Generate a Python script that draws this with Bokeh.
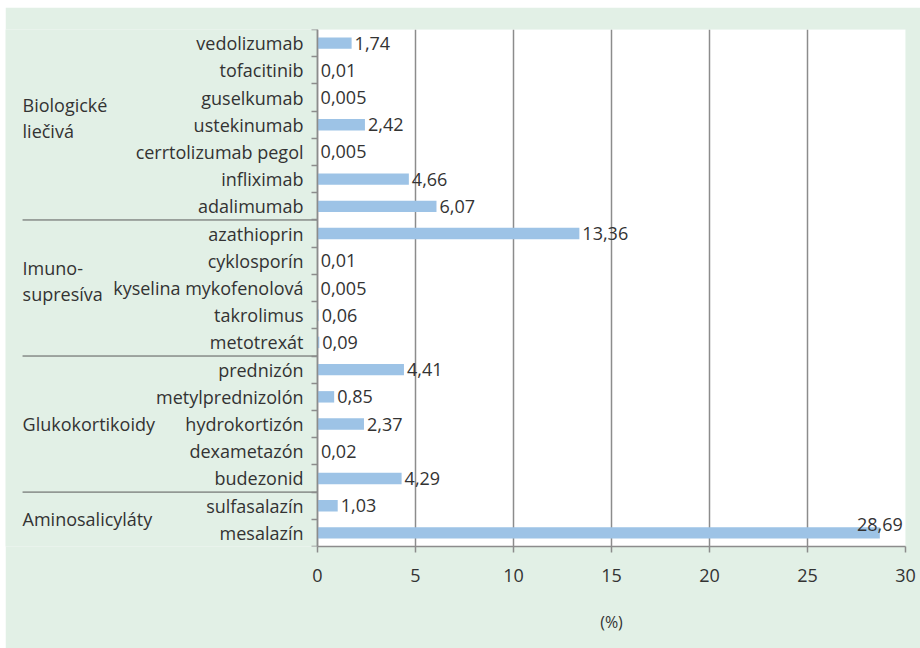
from bokeh.plotting import figure
from bokeh.models import Range1d, LinearAxis, FixedTicker, ColumnDataSource, BoxAnnotation
from bokeh.embed import file_html
from bokeh.resources import INLINE
from bokeh.core.properties import value

# ---- data (top to bottom) ----
drugs = ["vedolizumab", "tofacitinib", "guselkumab", "ustekinumab", "cerrtolizumab pegol",
         "infliximab", "adalimumab",
         "azathioprin", "cyklosporín", "kyselina mykofenolová", "takrolimus", "metotrexát",
         "prednizón", "metylprednizolón", "hydrokortizón", "dexametazón", "budezonid",
         "sulfasalazín", "mesalazín"]
values = [1.74, 0.01, 0.005, 2.42, 0.005, 4.66, 6.07,
          13.36, 0.01, 0.005, 0.06, 0.09,
          4.41, 0.85, 2.37, 0.02, 4.29,
          1.03, 28.69]
group_names = [["Biologické", "liečivá"], ["Imuno-", "supresíva"], ["Glukokortikoidy"], ["Aminosalicyláty"]]
group_sizes = [7, 5, 5, 2]
x_ticks = [0, 5, 10, 15, 20, 25, 30]
x_title = "(%)"

FONT = "Open Sans"
TEXT = "#333333"
GRID = "#8c8c8c"
BG = "#e2f0e6"
BAR = "#9dc3e6"
SEP = "#595959"
FS = "18px"

n = len(drugs)
pos = [n - i - 0.5 for i in range(n)]
labels = [str(v).replace(".", ",") for v in values]
xmin, xmax = x_ticks[0], x_ticks[-1]

# the frame spans the whole width; the area left of 0 holds the category labels
X_LEFT = -15.92      # left edge of the drawing area (data units)
GROUP_X = -15.05     # where the group names start

p = figure(width=915, height=641, x_range=Range1d(X_LEFT, xmax), y_range=Range1d(0, n),
           output_backend="svg", toolbar_location=None, y_axis_location=None,
           min_border_left=0, min_border_right=15, min_border_top=22, min_border_bottom=102)
p.margin = (7, 0, 0, 5)
p.background_fill_color = BG
p.border_fill_color = BG
p.outline_line_color = None

# white plotting area 0..30
p.add_layout(BoxAnnotation(left=xmin, right=xmax, fill_color="white", fill_alpha=1,
                           line_color=None, level="image"))

# bars
src = ColumnDataSource(dict(y=pos, v=values, name=drugs))
p.hbar(y="y", left=0, right="v", height=0.42, source=src, fill_color=BAR, line_color=None)

# value labels
inside = [i for i, v in enumerate(values) if v <= 25]
above = [i for i, v in enumerate(values) if v > 25]
src_in = ColumnDataSource(dict(x=[values[i] for i in inside], y=[pos[i] for i in inside],
                               t=[labels[i] for i in inside]))
src_ab = ColumnDataSource(dict(x=[values[i] for i in above], y=[pos[i] for i in above],
                               t=[labels[i] for i in above]))
p.text(x="x", y="y", text="t", source=src_in, x_offset=3, text_baseline="middle",
       text_font=value(FONT), text_font_size=FS, text_color=TEXT)
p.text(x="x", y="y", text="t", source=src_ab, y_offset=-8, text_align="center",
       text_baseline="alphabetic", text_font=value(FONT), text_font_size=FS, text_color=TEXT)

# x axis
xa = p.xaxis[0]
xa.ticker = FixedTicker(ticks=x_ticks)
xa.bounds = (xmin, xmax)
xa.axis_line_color = GRID
xa.axis_line_width = 1.5
xa.major_tick_line_color = GRID
xa.major_tick_line_width = 1.5
xa.major_tick_out = 6
xa.major_tick_in = 0
xa.minor_tick_line_color = None
xa.major_label_standoff = 16
xa.major_label_text_font = FONT
xa.major_label_text_font_size = FS
xa.major_label_text_color = TEXT

# axis title "(%)", centred under the 0..30 span
mid = (xmin + xmax) / 2
xt = LinearAxis(ticker=FixedTicker(ticks=[mid]), major_label_overrides={mid: x_title},
                bounds=(xmin, xmax))
xt.axis_line_color = None
xt.major_tick_line_color = None
xt.minor_tick_line_color = None
xt.major_tick_out = 0
xt.major_tick_in = 0
xt.major_label_standoff = 26
xt.major_label_text_font = FONT
xt.major_label_text_font_size = "16px"
xt.major_label_text_color = TEXT
p.add_layout(xt, "below")

p.xgrid.ticker = FixedTicker(ticks=x_ticks)
p.xgrid.grid_line_color = GRID
p.xgrid.grid_line_width = 1.5
p.ygrid.visible = False

# y axis at x = 0: names at row centres, ticks at row boundaries
ya = LinearAxis(ticker=FixedTicker(ticks=pos, minor_ticks=list(range(n + 1))),
                major_label_overrides={pos[i]: drugs[i] for i in range(n)},
                fixed_location=xmin)
ya.axis_line_color = GRID
ya.axis_line_width = 1.5
ya.major_tick_line_color = None
ya.major_tick_out = 0
ya.major_tick_in = 0
ya.minor_tick_line_color = GRID
ya.minor_tick_line_width = 1.5
ya.minor_tick_out = 6
ya.minor_tick_in = 0
ya.major_label_standoff = 8
ya.major_label_text_font = FONT
ya.major_label_text_font_size = FS
ya.major_label_text_color = TEXT
p.add_layout(ya, "left")

# group names and separators
gx, gy, gt, go = [], [], [], []
sep_y = []
top = n
for gi, (names, size) in enumerate(zip(group_names, group_sizes)):
    bottom = top - size
    centre = (top + bottom) / 2
    k = len(names)
    for li, line in enumerate(names):
        gx.append(GROUP_X)
        gy.append(centre)
        gt.append(line)
        go.append((li - (k - 1) / 2) * 26 - (7 if k > 1 else 0))
    if gi < len(group_sizes) - 1:
        sep_y.append(bottom)
    top = bottom

gsrc = ColumnDataSource(dict(x=gx, y=gy, t=gt, o=go))
p.text(x="x", y="y", text="t", y_offset="o", source=gsrc, text_align="left",
       text_baseline="middle", text_font=value(FONT), text_font_size=FS, text_color=TEXT)
ssrc = ColumnDataSource(dict(x0=[GROUP_X] * len(sep_y), x1=[xmin] * len(sep_y), y=sep_y))
p.segment(x0="x0", y0="y", x1="x1", y1="y", source=ssrc, line_color=SEP, line_width=1)

open("out.html", "w").write(file_html(p, INLINE))
